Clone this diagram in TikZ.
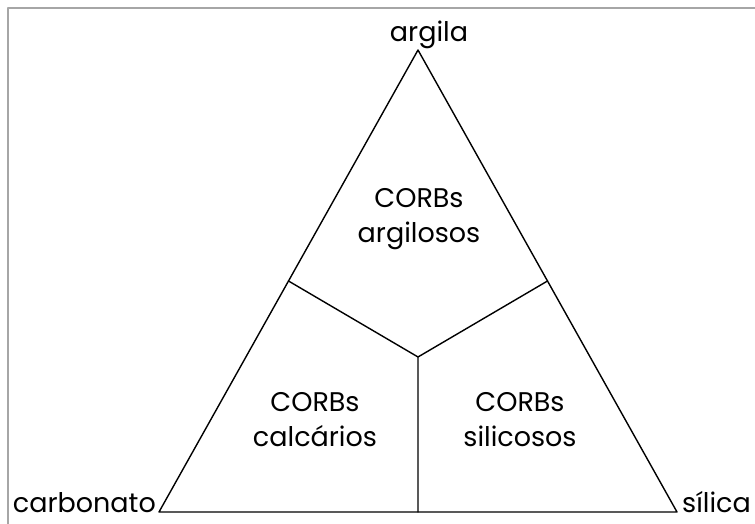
\documentclass[tikz,border=0pt]{standalone}
\usepackage{fontspec}
\setmainfont{Poppins}
\usetikzlibrary{calc}
\begin{document}
\begin{tikzpicture}[x=1pt,y=1pt,line join=round,line cap=round,font=\fontsize{27}{35}\selectfont,
	lab/.style={inner sep=0pt,align=center,anchor=base}]
	\useasboundingbox (0,0) rectangle (755,524);
	\draw[gray!70,line width=1.6pt] (8,-5)--(8,516)--(760,516);
	\coordinate (A) at (418,474);
	\coordinate (C) at (159,12);
	\coordinate (S) at (677,12);
	\coordinate (O) at (418,167);
	\draw[line width=1.4pt] (A)--(C)--(S)--cycle;
	\draw[line width=1.4pt] ($(A)!0.5!(C)$)--(O)--($(A)!0.5!(S)$) (O)--($(C)!0.5!(S)$);
	\node[lab] (argila) at (429,482) {argila};
	\node[lab,anchor=base east] (carb) at (156,11) {carbonato};
	\node[lab,anchor=base west] (sil) at (682,11) {sílica};
	\node[lab] (arg) at (419,281) {CORBs\\argilosos};
	\node[lab] (cal) at (315,77) {CORBs\\calcários};
	\node[lab] (sic) at (520,77) {CORBs\\silicosos};
\end{tikzpicture}
\end{document}
